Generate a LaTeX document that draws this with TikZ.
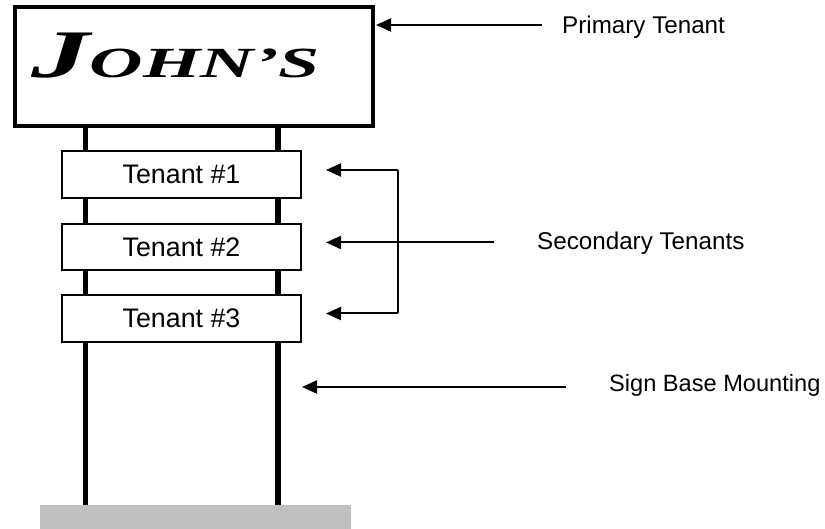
\documentclass[tikz,border=0pt]{standalone}
\usepackage{fontspec}
\setmainfont{Liberation Sans}
\newfontfamily\signfont{Liberation Serif}[BoldItalicFont={* Bold Italic}]
\usetikzlibrary{arrows.meta}
\begin{document}
\begin{tikzpicture}[x=1pt,y=-1pt,
  signbox/.style={draw,line width=4pt,minimum width=358pt,minimum height=119pt,inner sep=0pt},
  tenantbox/.style={draw,line width=2pt,fill=white,minimum width=239pt,inner sep=0pt,font=\fontsize{26.8}{32}\selectfont},
  post/.style={line width=5.5pt},
  label/.style={anchor=west,inner sep=0pt,font=\fontsize{24.2}{29}\selectfont},
  pointer/.style={line width=2pt,-{Triangle[length=15pt,width=13pt]}}]
\useasboundingbox (0,0) rectangle (825,529);
\fill[fill={rgb,255:red,192;green,192;blue,192}] (40,505) rectangle (351,529);
\node[signbox] (primary) at (194,66.5) {};
\draw[post] (85.5,128) -- (85.5,505);
\draw[post] (278,128) -- (278,505);
\node[tenantbox,minimum height=47pt] (t1) at (181.5,174.5) {Tenant \#1};
\node[tenantbox,minimum height=46pt] (t2) at (181.5,247) {Tenant \#2};
\node[tenantbox,minimum height=47pt] (t3) at (181.5,318.5) {Tenant \#3};
\node[anchor=base west,inner sep=0pt] (johns) at (31,78)
  {\signfont\bfseries\itshape\scalebox{1.72}[1]{\fontsize{68}{70}\selectfont J\fontsize{43}{44}\selectfont OHN’S}};
\node[label] (lprimary) at (562,27) {Primary Tenant};
\node[label] (lsecondary) at (537,243) {Secondary Tenants};
\node[label,font=\fontsize{23.6}{28}\selectfont] (lbase) at (609,385) {Sign Base Mounting};
\coordinate (pend) at (542,25);
\coordinate (ptip) at (376,25);
\coordinate (send) at (494,242.5);
\coordinate (sj) at (398,242.5);
\coordinate (s1) at (398,170);
\coordinate (s3) at (398,313.5);
\coordinate (tip1) at (326,170);
\coordinate (tip2) at (326,242.5);
\coordinate (tip3) at (326,313.5);
\coordinate (bend) at (566,387);
\coordinate (btip) at (302,387);
\draw[pointer] (pend) -- (ptip);
\draw[pointer] (send) -- (tip2);
\draw[line width=2pt] (s1) -- (s3);
\draw[pointer] (s1) -- (tip1);
\draw[pointer] (s3) -- (tip3);
\draw[pointer] (bend) -- (btip);
\end{tikzpicture}
\end{document}
